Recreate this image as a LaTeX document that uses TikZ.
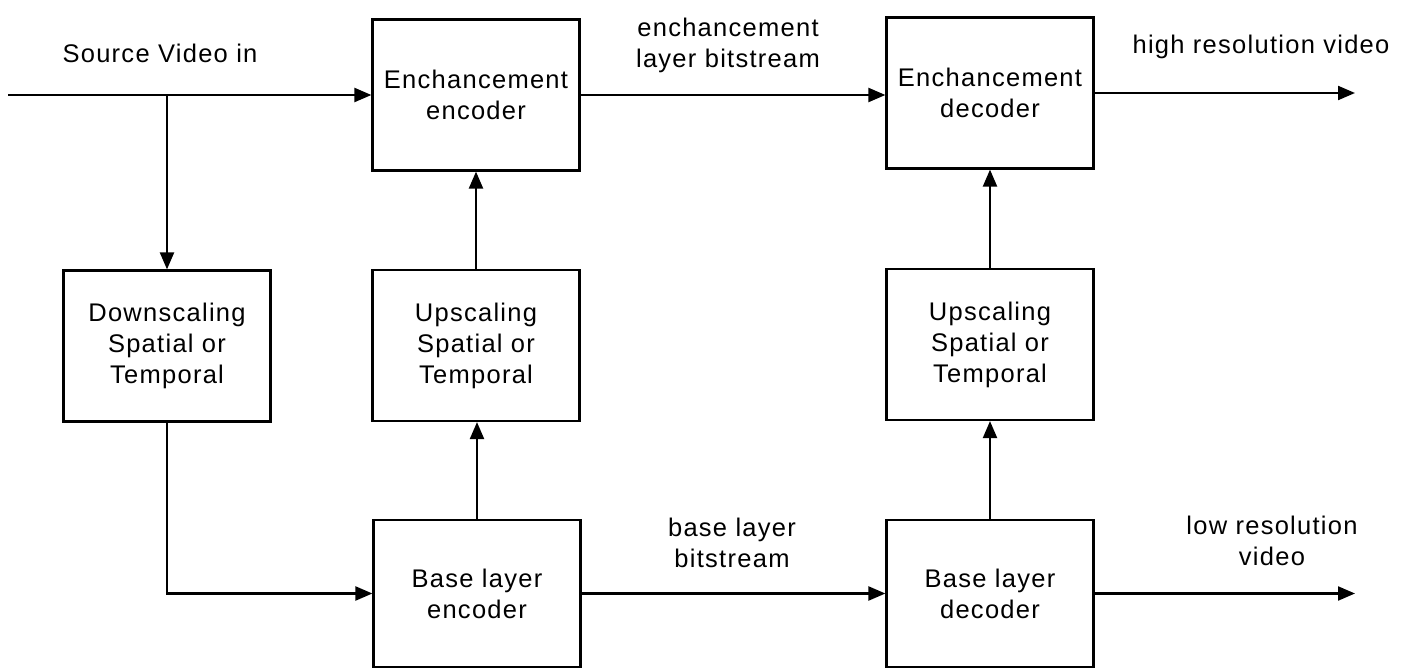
\documentclass[tikz,border=0pt]{standalone}
\usepackage{fontspec}
\setmainfont{Liberation Sans}[LetterSpace=5]
\usetikzlibrary{arrows.meta}
\begin{document}
\begin{tikzpicture}[x=1pt,y=-1pt,
  every node/.style={font=\fontsize{25.5}{31}\selectfont, align=center, inner sep=0pt},
  blk/.style={draw, line width=2.2pt, minimum width=207pt, minimum height=151pt},
  lowblk/.style={blk, minimum height=147pt},
  conn/.style={line width=2.2pt, -{Triangle[length=17pt,width=14pt]}},
  wire/.style={line width=2.2pt}]
\fill[white] (0,0) rectangle (1406,668);
\useasboundingbox (0,0) rectangle (1406,668);
% blocks
\node[blk] (ee) at (476,95) {Enchancement\\encoder};
\node[blk] (ed) at (990,93) {Enchancement\\decoder};
\node[blk] (ds) at (167,346) {Downscaling\\Spatial or\\Temporal};
\node[blk] (ul) at (476,345.5) {Upscaling\\Spatial or\\Temporal};
\node[blk] (ur) at (990,344.5) {Upscaling\\Spatial or\\Temporal};
\node[lowblk] (be) at (477,593.5) {Base layer\\encoder};
\node[lowblk] (bd) at (990,593.5) {Base layer\\decoder};
% labels
\node (lsrc) at (160,53) {Source Video in};
\node (lel) at (728,45) {enchancement\\layer bitstream};
\node (lhr) at (1261,47) {high resolution video};
\node (lbl) at (732,543) {base layer\\bitstream};
\node (llr) at (1272,541) {low resolution\\video};
% coordinates
\coordinate (in) at (8,95);
\coordinate (br) at (167,95);
\coordinate (hout) at (1355,93);
\coordinate (lout) at (1355,593.5);
% connectors
\draw[wire] (in) -- (br);
\draw[conn] (br) -- (ee.west);
\draw[conn] (br) -- (ds.north);
\draw[conn] (ds.south) |- (be.west);
\draw[conn] (be.north) -- (be.north |- ul.south);
\draw[conn] (ul.north) -- (ee.south);
\draw[conn] (ee.east) -- (ee.east -| ed.west);
\draw[conn] (ed.east) -- (hout);
\draw[conn] (be.east) -- (bd.west);
\draw[conn] (bd.north) -- (ur.south);
\draw[conn] (ur.north) -- (ed.south);
\draw[conn] (bd.east) -- (lout);
\end{tikzpicture}
\end{document}
